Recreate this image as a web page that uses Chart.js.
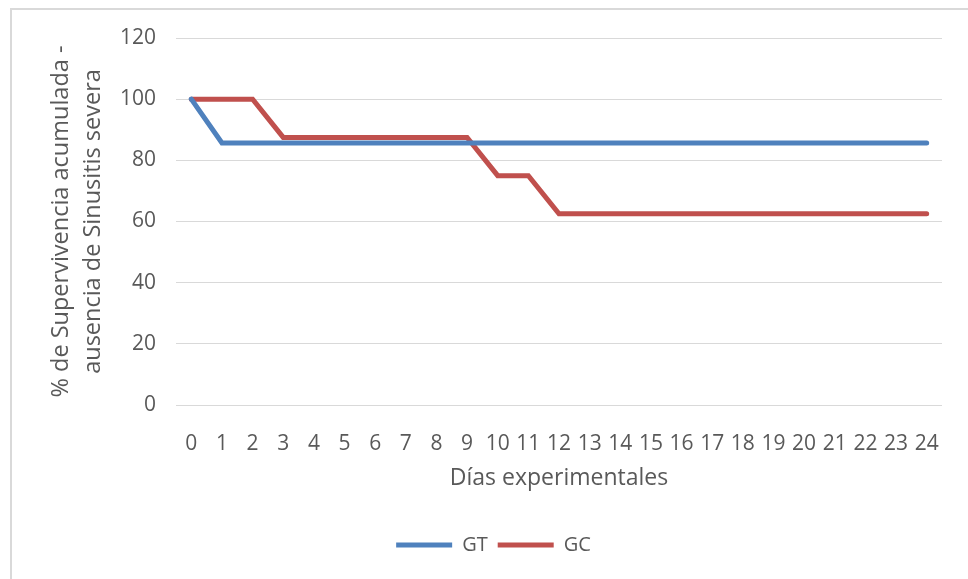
<!DOCTYPE html>
<html>
<head>
<meta charset="utf-8">
<script src="https://cdn.jsdelivr.net/npm/chart.js@4"></script>
<style>
  body { margin: 0; background: #fff; }
  #frame { position: absolute; left: 10px; top: 8px; width: 980px; height: 600px; border: 2px solid #d9d9d9; box-sizing: border-box; }
  #wrap { position: absolute; left: 0; top: 0; width: 968px; height: 579px; }
</style>
</head>
<body>
<div id="frame"></div>
<div id="wrap"><canvas id="chartSurv"></canvas></div>
<script>
const dias = ['0','1','2','3','4','5','6','7','8','9','10','11','12','13','14','15','16','17','18','19','20','21','22','23','24'];
const gt = [100, 85.7, 85.7, 85.7, 85.7, 85.7, 85.7, 85.7, 85.7, 85.7, 85.7, 85.7, 85.7, 85.7, 85.7, 85.7, 85.7, 85.7, 85.7, 85.7, 85.7, 85.7, 85.7, 85.7, 85.7];
const gc = [100, 100, 100, 87.5, 87.5, 87.5, 87.5, 87.5, 87.5, 87.5, 75, 75, 62.5, 62.5, 62.5, 62.5, 62.5, 62.5, 62.5, 62.5, 62.5, 62.5, 62.5, 62.5, 62.5];
const yTitle = ['% de Supervivencia acumulada -', 'ausencia de Sinusitis severa'];
const xTitle = 'Días experimentales';

Chart.defaults.font.family = '"Open Sans", sans-serif';
Chart.defaults.color = '#595959';

const ctxSurv = document.getElementById('chartSurv').getContext('2d');
const chartSurv = new Chart(ctxSurv, {
    type: 'line',
    data: {
        labels: dias,
        datasets: [{
            label: 'GT',
            data: gt,
            borderColor: '#4f81bd',
            backgroundColor: '#4f81bd',
            borderWidth: 5,
            borderCapStyle: 'round',
            pointRadius: 0,
            tension: 0
        }, {
            label: 'GC',
            data: gc,
            borderColor: '#c0504d',
            backgroundColor: '#c0504d',
            borderWidth: 5,
            borderCapStyle: 'round',
            pointRadius: 0,
            tension: 0
        }]
    },
    options: {
        responsive: true,
        maintainAspectRatio: false,
        animation: false,
        layout: { padding: { left: 45, right: 26, top: 38, bottom: 14 } },
        plugins: {
            legend: {
                position: 'bottom',
                labels: {
                    usePointStyle: true,
                    pointStyle: 'line',
                    pointStyleWidth: 56,
                    boxHeight: 10,
                    padding: 10,
                    font: { size: 20 },
                    color: '#595959'
                }
            },
            tooltip: { enabled: false }
        },
        scales: {
            x: {
                offset: true,
                grid: { display: false },
                border: { display: false },
                ticks: { font: { size: 21 }, maxRotation: 0, autoSkip: false, padding: 18 },
                title: { display: true, text: xTitle, font: { size: 23 }, padding: { top: 0, bottom: 33 } },
                afterFit: (scale) => { scale.height = 120; }
            },
            y: {
                min: 0,
                max: 120,
                ticks: { stepSize: 20, font: { size: 21 }, padding: 20 },
                grid: { color: '#d9d9d9', lineWidth: 1, drawTicks: false },
                border: { display: false },
                title: { display: true, text: yTitle, font: { size: 23.5, lineHeight: 1.36 }, padding: 0 },
                afterFit: (scale) => { scale.width = 131; }
            }
        }
    }
});
</script>
</body>
</html>
